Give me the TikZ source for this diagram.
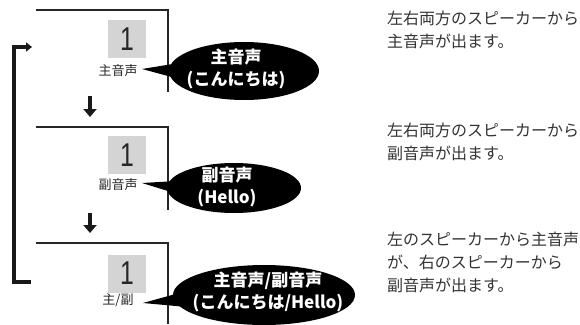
\documentclass[tikz,border=0pt]{standalone}
\usepackage{fontspec}
\setmainfont{Noto Sans CJK JP}
\newfontfamily\digitfont{Liberation Sans}
\usetikzlibrary{shapes.geometric,arrows.meta,calc}
\begin{document}
\begin{tikzpicture}[x=1pt,y=-1pt,
 screen/.style={draw=black!85, line width=2pt},
 digitbox/.style={fill=black!17, minimum width=38pt, minimum height=38pt, inner sep=0, font=\digitfont\fontsize{33}{33}\selectfont, text=black!85},
 chlabel/.style={font=\fontsize{13}{13}\selectfont, text=black!85, inner sep=0},
 bubble/.style={ellipse, fill=black, inner sep=0},
 bubtext/.style={text=white, align=center, font=\bfseries\fontsize{17}{22}\selectfont, inner sep=0},
 desc/.style={anchor=west, align=left, font=\fontsize{16}{23}\selectfont, text=black!80, inner sep=0},
 flow/.style={line width=3.2pt, draw=black!90, -{Triangle[width=13pt,length=8pt]}},
 loopline/.style={line width=3.5pt, draw=black!90, -{Triangle[width=9pt,length=6pt]}},
]
\useasboundingbox (0,0) rectangle (580,324);

% screens
\coordinate (s1a) at (36,10);  \coordinate (s1b) at (168,92);
\coordinate (s2a) at (36,127); \coordinate (s2b) at (168,210);
\coordinate (s3a) at (36,243); \coordinate (s3b) at (168,324);
\draw[screen] (s1a) -| (s1b);
\draw[screen] (s2a) -| (s2b);
\draw[screen] (s3a) -| (s3b);

% channel boxes
\node[digitbox] (d1) at (127,39) {\scalebox{0.75}[1]{1}};
\node[digitbox] (d2) at (127,155) {\scalebox{0.75}[1]{1}};
\node[digitbox] (d3) at (127,273.5) {\scalebox{0.75}[1]{1}};
\node[chlabel] (c1) at (118,71) {主音声};
\node[chlabel] (c2) at (118,185) {副音声};
\node[chlabel] (c3) at (118,300) {主/副};

% bubbles
\coordinate (tip1) at (142,69);
\coordinate (tip2) at (142,183);
\coordinate (tip3) at (143,303);
\node[bubble, minimum width=150pt, minimum height=58pt] (b1) at (244,71) {};
\node[bubble, minimum width=134pt, minimum height=50pt] (b2) at (234,188) {};
\node[bubble, minimum width=182pt, minimum height=60pt] (b3) at (264,295) {};
\fill[black] ($(b1.west)+(10,-8)$) -- (tip1) -- ($(b1.west)+(14,9)$) -- cycle;
\fill[black] ($(b2.west)+(10,-7)$) -- (tip2) -- ($(b2.west)+(14,7)$) -- cycle;
\fill[black] ($(b3.west)+(10,-3)$) -- (tip3) -- ($(b3.west)+(14,12)$) -- cycle;
\node[bubtext] (t1) at (236,69) {主音声\\(こんにちは)};
\node[bubtext] (t2) at (227,187) {副音声\\(Hello)};
\node[bubtext] (t3) at (268,292) {主音声/副音声\\(こんにちは/Hello)};

% flow arrows
\coordinate (a1s) at (90,96);  \coordinate (a1e) at (90,117);
\coordinate (a2s) at (90,213); \coordinate (a2e) at (90,233);
\draw[flow] (a1s) -- (a1e);
\draw[flow] (a2s) -- (a2e);
\coordinate (l1) at (32,47); \coordinate (l2) at (31,282);
\draw[loopline] (l2) -- ++(-17,0) |- (l1);

% descriptions
\node[desc] (e1) at (387,30) {左右両方のスピーカーから\\主音声が出ます。};
\node[desc] (e2) at (387,142) {左右両方のスピーカーから\\副音声が出ます。};
\node[desc] (e3) at (387,262) {左のスピーカーから主音声\\が、右のスピーカーから\\副音声が出ます。};
\end{tikzpicture}
\end{document}
